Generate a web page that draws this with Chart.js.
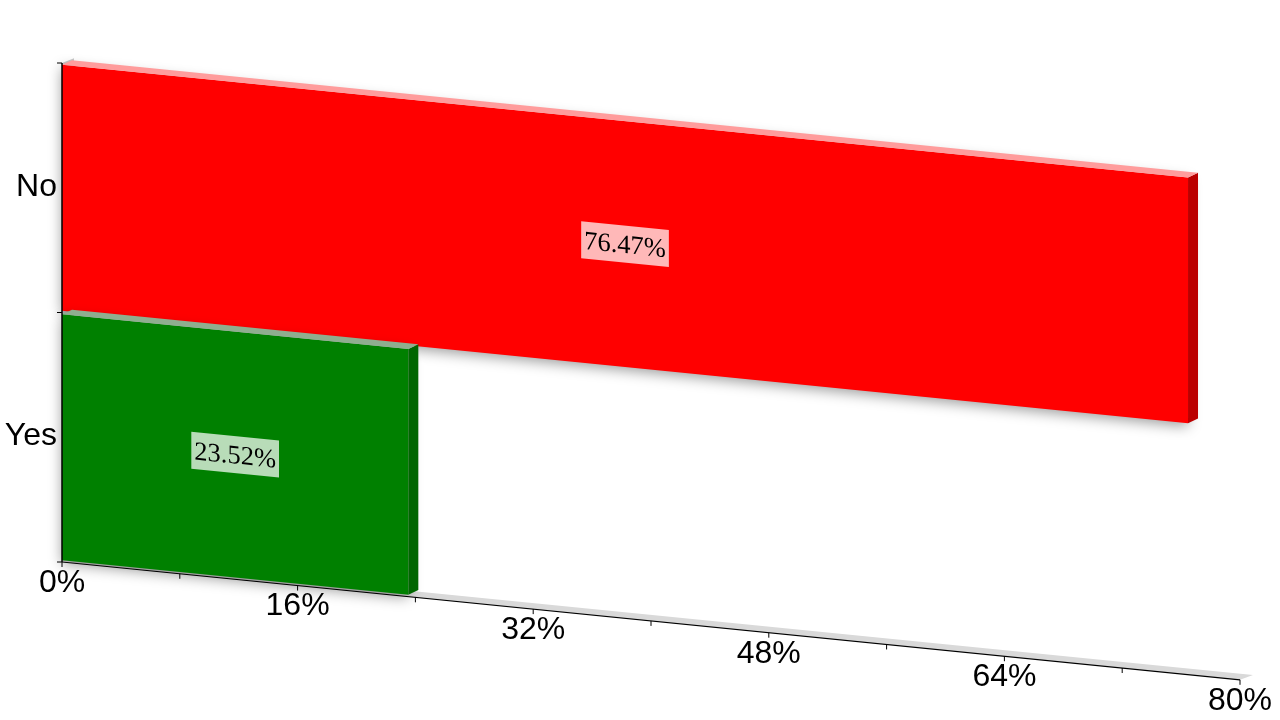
<!DOCTYPE html>
<html>
<head>
<meta charset="utf-8">
<style>
  html, body { margin: 0; padding: 0; background: #ffffff; }
  canvas { display: block; }
</style>
</head>
<body>
<canvas id="chart" width="1280" height="720"></canvas>
<script src="https://cdn.jsdelivr.net/npm/chart.js@4/dist/chart.umd.min.js"></script>
<script>
const categories = ['No', 'Yes'];
const shareValues = [76.47, 23.52];
const shareLabels = ['76.47%', '23.52%'];
const barColors = ['#ff0000', '#008000'];
const topColors = ['#ff9c9c', '#8fae8f'];
const sideColors = ['#bb0000', '#006600'];
const xTickValues = [0, 16, 32, 48, 64, 80];
const xTickLabels = ['0%', '16%', '32%', '48%', '64%', '80%'];

// fake 3D: everything on the plot plane slopes down to the right
const SLOPE = 0.1;
const DEPTH_X = 10;
const DEPTH_Y = -4.7;
const SANS = '"Liberation Sans", Arial, sans-serif';
const SERIF = '"Liberation Serif", "Times New Roman", serif';

function polygon(ctx, points, color) {
    ctx.beginPath();
    points.forEach((p, i) => i ? ctx.lineTo(p[0], p[1]) : ctx.moveTo(p[0], p[1]));
    ctx.closePath();
    ctx.fillStyle = color;
    ctx.fill();
}

const fake3d = {
    id: 'fake3d',
    beforeDraw(chart) {
        const ctx = chart.ctx;
        const { left, right, top, bottom } = chart.chartArea;
        const sk = (x, y) => [x, y + SLOPE * (x - left)];
        // floor and back wall
        const fx = DEPTH_X + 2, fy = DEPTH_Y;
        polygon(ctx, [sk(left, bottom), sk(right, bottom), [right + fx + 1, sk(right, bottom)[1] + fy], [left + fx, bottom + fy]], '#d9d9d9');
        polygon(ctx, [[left, top], [left + fx, top + fy], [left + fx, bottom + fy], [left, bottom]], '#c8c8c8');
    },
    beforeDatasetsDraw(chart) {
        const ctx = chart.ctx;
        ctx.save();
        ctx.transform(1, SLOPE, 0, 1, 0, -SLOPE * chart.chartArea.left);
        ctx.shadowColor = 'rgba(0, 0, 0, 0.4)';
        ctx.shadowBlur = 14;
        ctx.shadowOffsetY = 3;
    },
    afterDatasetsDraw(chart) {
        chart.ctx.restore();
    },
    afterDraw(chart) {
        const ctx = chart.ctx;
        const { left, top, bottom } = chart.chartArea;
        const xScale = chart.scales.x;
        const yScale = chart.scales.y;
        const sk = (x, y) => [x, y + SLOPE * (x - left)];

        // side and top faces of the bars
        chart.getDatasetMeta(0).data.forEach((bar, i) => {
            const x0 = bar.base, x1 = bar.x;
            const y0 = bar.y - bar.height / 2, y1 = bar.y + bar.height / 2;
            const a = sk(x0, y0), b = sk(x1, y0), c = sk(x1, y1);
            polygon(ctx, [b, [b[0] + DEPTH_X, b[1] + DEPTH_Y], [c[0] + DEPTH_X, c[1] + DEPTH_Y], c], sideColors[i]);
            polygon(ctx, [a, [a[0] + DEPTH_X, a[1] + DEPTH_Y], [b[0] + DEPTH_X, b[1] + DEPTH_Y], b], topColors[i]);
        });

        // axis lines
        ctx.strokeStyle = '#000000';
        ctx.lineWidth = 1.5;
        ctx.beginPath();
        ctx.moveTo(left, top);
        ctx.lineTo(left, bottom);
        ctx.stroke();
        ctx.lineWidth = 1.2;
        ctx.beginPath();
        ctx.moveTo(left, bottom);
        ctx.lineTo(...sk(chart.chartArea.right, bottom));
        ctx.stroke();

        // tick marks
        ctx.lineWidth = 1;
        ctx.beginPath();
        xScale.ticks.forEach(t => {
            const p = sk(xScale.getPixelForValue(t.value), bottom);
            ctx.moveTo(p[0], p[1]);
            ctx.lineTo(p[0], p[1] + 5);
        });
        for (let i = 0; i <= categories.length; i++) {
            const y = yScale.getPixelForValue(i - 0.5);
            ctx.moveTo(left - 5, y);
            ctx.lineTo(left, y);
        }
        ctx.stroke();

        // tick labels stay upright
        ctx.fillStyle = '#000000';
        ctx.font = '32px ' + SANS;
        ctx.textAlign = 'center';
        ctx.textBaseline = 'middle';
        xTickValues.forEach((v, i) => {
            const p = sk(xScale.getPixelForValue(v), bottom);
            ctx.fillText(xTickLabels[i], p[0], p[1] + 21);
        });
        ctx.textAlign = 'right';
        categories.forEach((name, i) => {
            ctx.fillText(name, left - 5, yScale.getPixelForValue(i) - 1);
        });

        // value labels lie on the sloped plane
        ctx.save();
        ctx.transform(1, SLOPE, 0, 1, 0, -SLOPE * left);
        ctx.font = '26.5px ' + SERIF;
        ctx.textAlign = 'center';
        chart.getDatasetMeta(0).data.forEach((bar, i) => {
            const cx = (bar.base + bar.x) / 2;
            const w = ctx.measureText(shareLabels[i]).width + 6;
            ctx.fillStyle = 'rgba(255, 255, 255, 0.72)';
            ctx.fillRect(cx - w / 2, bar.y - 18.5, w, 37);
            ctx.fillStyle = '#000000';
            ctx.fillText(shareLabels[i], cx, bar.y + 2);
        });
        ctx.restore();
    }
};

new Chart(document.getElementById('chart').getContext('2d'), {
    type: 'bar',
    data: {
        labels: categories,
        datasets: [{
            data: shareValues,
            backgroundColor: barColors,
            borderWidth: 0,
            barPercentage: 0.985,
            categoryPercentage: 1,
            clip: false
        }]
    },
    options: {
        indexAxis: 'y',
        responsive: false,
        animation: false,
        layout: { padding: { left: 62, right: 40, top: 63, bottom: 158 } },
        plugins: { legend: { display: false }, title: { display: false }, tooltip: { enabled: false } },
        scales: {
            x: { display: false, min: 0, max: 80, ticks: { stepSize: 8, autoSkip: false } },
            y: { display: false }
        }
    },
    plugins: [fake3d]
});
</script>
</body>
</html>
